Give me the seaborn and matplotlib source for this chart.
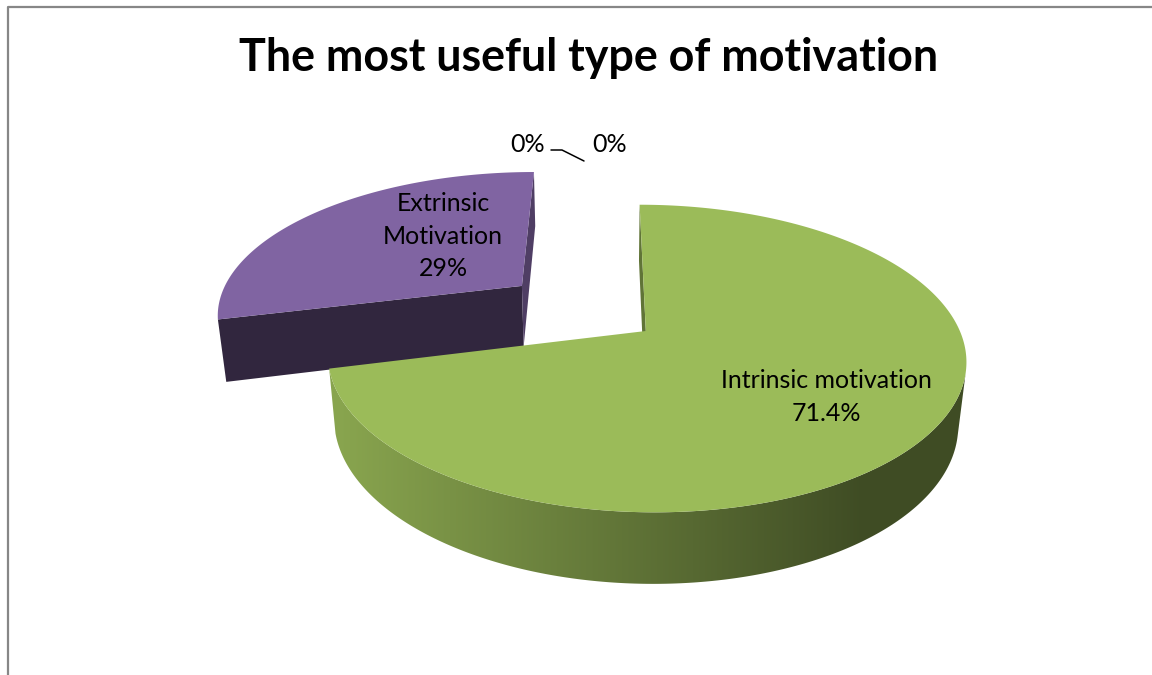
import numpy as np
import matplotlib
matplotlib.use("Agg")
import matplotlib.pyplot as plt
from matplotlib.patches import Polygon
from matplotlib.lines import Line2D
import seaborn as sns

# ---- data -------------------------------------------------------------
categories = ["Intrinsic motivation", "Extrinsic\nMotivation", "", ""]
values = [71.4, 29, 0, 0]
value_labels = ["71.4%", "29%", "0%", "0%"]
explode = [0.0, 0.52, 0.0, 0.0]
title = "The most useful type of motivation"

# ---- style ------------------------------------------------------------
sns.set_theme(style="white")
plt.rcParams["font.family"] = ["Lato", "DejaVu Sans"]
top_colors = ["#9BBB59", "#8064A2", "#4BACC6", "#F79646"]

# ---- 3-D view of the pie ---------------------------------------------
elev = np.radians(28.3)
cos_e, sin_e = np.cos(elev), np.sin(elev)
dist = 4.92          # camera distance, in pie radii
focal = 1545.0       # screen scale
shift_x = 0.13       # pie centre offset from the camera axis
thick = 0.233        # pie thickness, in pie radii
X0, Y0 = 605.0, 331.0
cam = np.array([0.0, -dist * cos_e, dist * sin_e])


def project(x, y, z):
    x, y, z = np.asarray(x, float), np.asarray(y, float), np.asarray(z, float)
    depth = dist + y * cos_e - z * sin_e
    up = y * sin_e + z * cos_e
    return X0 + focal * x / depth, Y0 - focal * up / depth


def faces_camera(point, normal):
    return np.dot(cam - np.asarray(point), np.asarray(normal)) > 0


def shade(color, k):
    r, g, b = matplotlib.colors.to_rgb(color)
    return (r * k, g * k, b * k)


fig = plt.figure(figsize=(11.52, 6.75), dpi=100)
ax = fig.add_axes([0, 0, 1, 1])
ax.set_xlim(0, 1152)
ax.set_ylim(675, 0)
ax.axis("off")

fractions = np.array(values, float) / np.sum(values)
bounds = 90.0 - 360.0 * np.concatenate([[0], np.cumsum(fractions)])

slices = []
for i, frac in enumerate(fractions):
    if frac <= 0:
        continue
    a0, a1 = np.radians(bounds[i]), np.radians(bounds[i + 1])
    mid = 0.5 * (a0 + a1)
    ox = shift_x + explode[i] * np.cos(mid)
    oy = explode[i] * np.sin(mid)
    slices.append((i, a0, a1, ox, oy, mid))

# farther slices first
slices.sort(key=lambda s: -(s[4] + 0.5 * np.sin(s[5])))

xs_row = np.arange(1152)
for i, a0, a1, ox, oy, mid in slices:
    base = top_colors[i]
    th = np.linspace(a0, a1, 400)
    ax_x, ax_y = ox + np.cos(th), oy + np.sin(th)

    # radial faces
    for ang, sign in ((a0, 1), (a1, -1)):
        normal = np.array([-np.sin(ang), np.cos(ang), 0.0]) * sign
        edge = np.array([ox + 0.5 * np.cos(ang), oy + 0.5 * np.sin(ang), -thick / 2])
        if faces_camera(edge, normal):
            px, py = project([ox, ox + np.cos(ang), ox + np.cos(ang), ox],
                             [oy, oy + np.sin(ang), oy + np.sin(ang), oy],
                             [0, 0, -thick, -thick])
            k = 0.38 if normal[1] < -0.5 else 0.62
            ax.add_patch(Polygon(np.c_[px, py], closed=True, fc=shade(base, k),
                                 ec="none", zorder=2))

    # curved outer wall, only the part facing the camera
    vis = np.array([faces_camera([x, y, -thick / 2], [np.cos(t), np.sin(t), 0])
                    for x, y, t in zip(ax_x, ax_y, th)])
    if vis.any():
        tx, ty = project(ax_x[vis], ax_y[vis], 0)
        bx, by = project(ax_x[vis], ax_y[vis], -thick)
        wall = Polygon(np.r_[np.c_[tx, ty], np.c_[bx, by][::-1]], closed=True,
                       fc="none", ec="none", zorder=2)
        ax.add_patch(wall)
        k = np.clip(np.interp(xs_row, [340, 860], [0.88, 0.41]), 0.41, 0.88)
        rgb = np.array(matplotlib.colors.to_rgb(base))
        grad = (k[:, None] * rgb[None, :])[None, :, :]
        img = ax.imshow(grad, extent=[0, 1152, 675, 0], aspect="auto",
                        zorder=2, interpolation="bilinear")
        img.set_clip_path(wall)

    # top face
    px, py = project(np.r_[ox, ax_x], np.r_[oy, ax_y], 0)
    ax.add_patch(Polygon(np.c_[px, py], closed=True, fc=base, ec="none", zorder=2))

ax.set_xlim(0, 1152)
ax.set_ylim(675, 0)

# ---- labels -----------------------------------------------------------
lab_kw = dict(fontsize=18, color="black", ha="center", va="center", zorder=5,
              linespacing=1.5)
ax.text(826, 397, f"{categories[0]}\n{value_labels[0]}", **lab_kw)
ax.text(443, 236, f"{categories[1]}\n{value_labels[1]}", **lab_kw)
ax.text(528, 145, value_labels[2], **lab_kw)
ax.text(610, 144, value_labels[3], **lab_kw)
ax.add_line(Line2D([551, 562, 584], [150, 150, 161], color="black", lw=1.1, zorder=5))

ax.text(589, 58, title, fontsize=32.3, fontweight="bold", ha="center", va="center",
        color="black", zorder=5)

# chart-area frame
ax.add_line(Line2D([7.5, 7.5, 1160], [700, 6.5, 6.5], color="#878787", lw=1.6,
                   zorder=6, clip_on=False))

fig.savefig("out.png", dpi=100)
